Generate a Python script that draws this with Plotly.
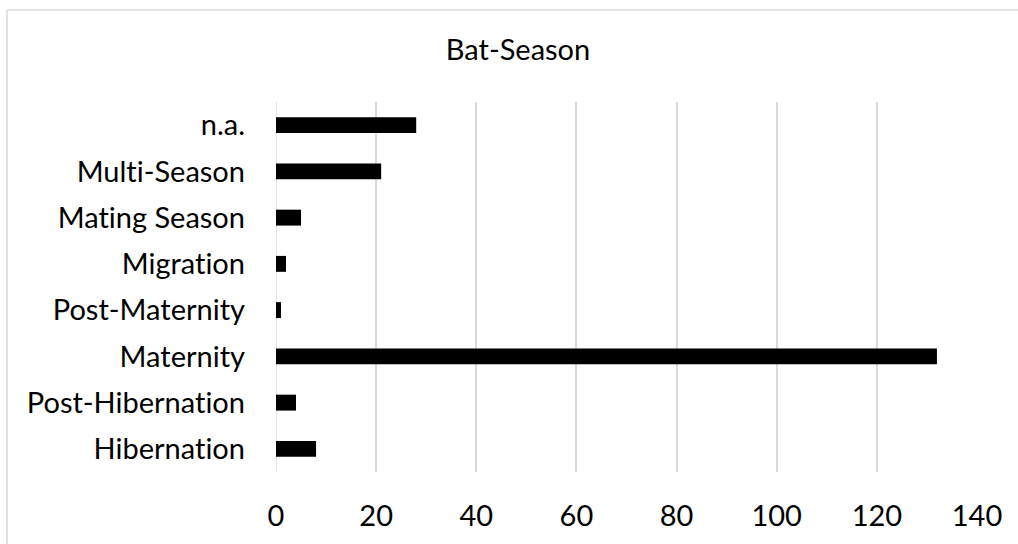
import plotly.graph_objects as go

# Number of records per bat season
categories = ["Hibernation", "Post-Hibernation", "Maternity", "Post-Maternity",
              "Migration", "Mating Season", "Multi-Season", "n.a."]
counts = [8, 4, 132, 1, 2, 5, 21, 28]
x_ticks = [0, 20, 40, 60, 80, 100, 120, 140]

W, H = 1018, 544
L, R, T, B = 276, 41, 102, 70
FONT = "Lato"
GRID = "#d9d9d9"

fig = go.Figure(
    go.Bar(
        x=counts,
        y=categories,
        orientation="h",
        marker=dict(color="#000000", line=dict(width=0)),
    )
)

pw = W - L - R
ph = H - T - B
# chart-area frame (left and top edges)
bx0 = (7 - L) / pw
by1 = (H - B - 9.5) / ph
fig.add_shape(type="line", xref="paper", yref="paper",
              x0=bx0, x1=bx0, y0=by1, y1=-1,
              line=dict(color=GRID, width=1.5))
fig.add_shape(type="line", xref="paper", yref="paper",
              x0=bx0, x1=2, y0=by1, y1=by1,
              line=dict(color=GRID, width=1.5))

fig.update_layout(
    width=W, height=H,
    margin=dict(l=L, r=R, t=T, b=B, pad=0),
    paper_bgcolor="white", plot_bgcolor="white",
    bargap=0.656,
    showlegend=False,
    font=dict(family=FONT, color="#000000", size=29),
    title=dict(text="Bat-Season", xref="container", yref="container",
               x=518 / W, xanchor="center", y=1 - 50 / H, yanchor="middle",
               font=dict(family=FONT, size=29, color="#000000")),
    xaxis=dict(range=[0, 140], tickvals=x_ticks, ticktext=[str(v) for v in x_ticks],
               showgrid=True, gridcolor=GRID, gridwidth=1.5,
               zeroline=False, showline=False, ticks="",
               ticklabelstandoff=24,
               tickfont=dict(family=FONT, size=29, color="#000000")),
    yaxis=dict(categoryorder="array", categoryarray=categories,
               showgrid=False, zeroline=False, showline=False, ticks="",
               ticklabelstandoff=30,
               tickfont=dict(family=FONT, size=29, color="#000000")),
)
# zero line drawn like the other gridlines
fig.add_shape(type="line", xref="x", yref="paper", x0=0, x1=0, y0=0, y1=1,
              line=dict(color=GRID, width=1.5), layer="below")

# plain letter forms (no "ti" ligature) for all chart text
no_ligatures = (
    "var s=document.createElement('style');"
    "s.textContent='.main-svg text{font-variant-ligatures:none !important;"
    "font-feature-settings:\"liga\" 0, \"clig\" 0 !important;}';"
    "document.head.appendChild(s);"
)
fig.write_html("out.html", post_script=no_ligatures)
